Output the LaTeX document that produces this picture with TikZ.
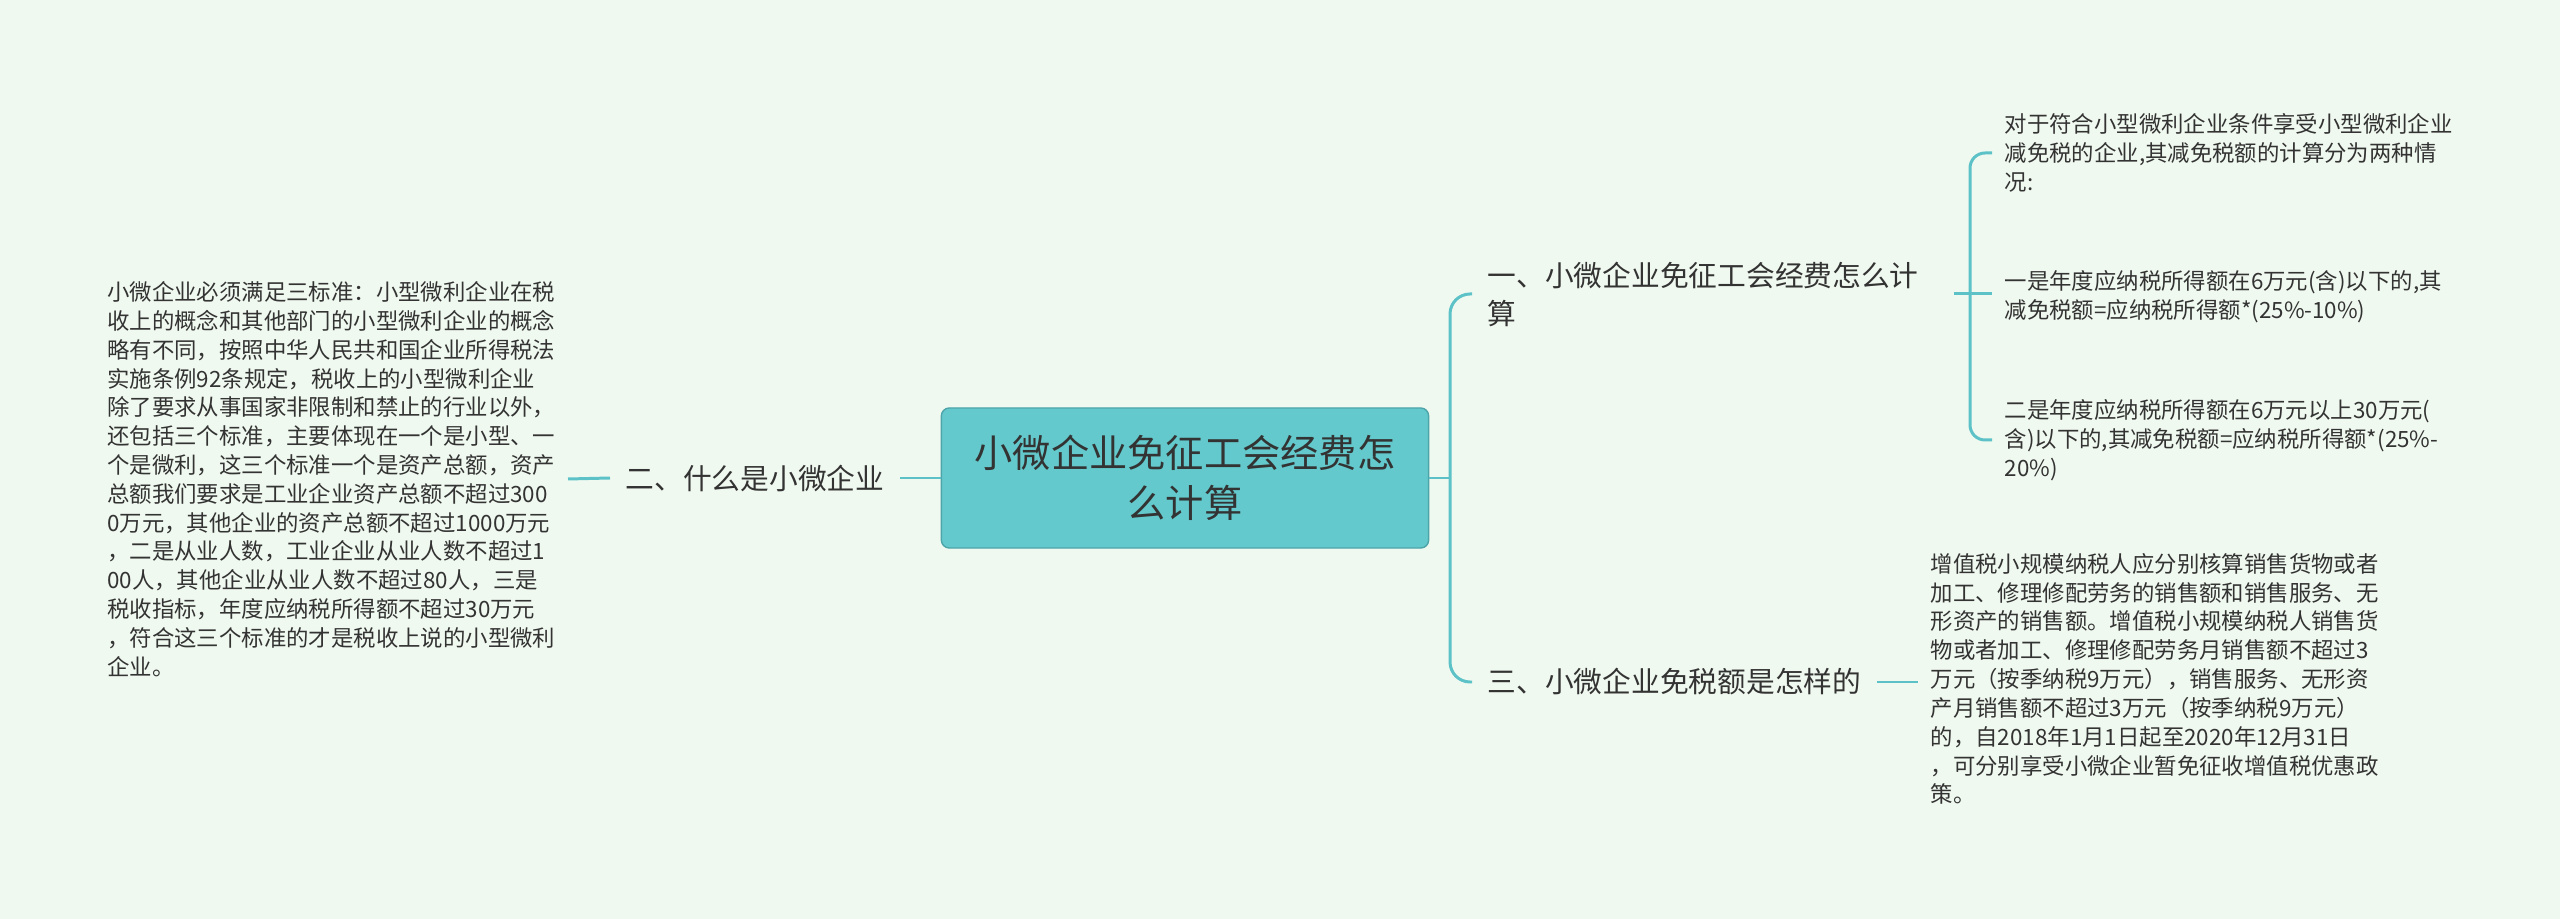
\documentclass[tikz,border=0pt]{standalone}
\usepackage{fontspec}
\setmainfont{Noto Sans CJK SC}
\usepackage{xcolor}
\usepackage{tikz}
\usetikzlibrary{positioning,calc}
\definecolor{MapBg}{HTML}{F0F9F0}
\definecolor{MapTeal}{HTML}{64C9CC}
\definecolor{MapLine}{HTML}{5CC2C7}
\definecolor{MapText}{HTML}{333333}

\begin{document}
\begin{tikzpicture}[x=0.01cm, y=-0.01cm,
        root/.style={rectangle, draw=MapLine!85!black, fill=MapTeal, line width=0.4pt,
                     rounded corners=0.08cm, minimum width=4.87cm, minimum height=1.40cm,
                     align=center, text=MapText, font=\fontsize{10.87pt}{14.2pt}\selectfont},
        branch/.style={inner xsep=0.15cm, inner ysep=0pt, align=left, text=MapText,
                       font=\fontsize{8.17pt}{10.8pt}\selectfont},
        leaf/.style={inner xsep=0.12cm, inner ysep=0pt, align=left, text=MapText,
                     font=\fontsize{6.37pt}{8.19pt}\selectfont},
        link/.style={draw=MapLine, line width=0.85pt},
      ]
      \fill[MapBg] (0,0) rectangle (2560,919);
      \useasboundingbox (0,0) rectangle (2560,919);
      % centre
      \node[root] (root) at (1185,478) {小微企业免征工会经费怎\\么计算};
      % left side
      \node[branch, anchor=east] (b2) at (900,478) {二、什么是小微企业};
      \node[leaf, anchor=east] (ll) at (568,479)
        {小微企业必须满足三标准：小型微利企业在税\\
         收上的概念和其他部门的小型微利企业的概念\\
         略有不同，按照中华人民共和国企业所得税法\\
         实施条例92条规定，税收上的小型微利企业\\
         除了要求从事国家非限制和禁止的行业以外，\\
         还包括三个标准，主要体现在一个是小型、一\\
         个是微利，这三个标准一个是资产总额，资产\\
         总额我们要求是工业企业资产总额不超过300\\
         0万元，其他企业的资产总额不超过1000万元\\
         ，二是从业人数，工业企业从业人数不超过1\\
         00人，其他企业从业人数不超过80人，三是\\
         税收指标，年度应纳税所得额不超过30万元\\
         ，符合这三个标准的才是税收上说的小型微利\\
         企业。};
      % right side
      \node[branch, anchor=west, text width=4.5cm] (b1) at (1472,294)
        {一、小微企业免征工会经费怎么计\\算};
      \node[branch, anchor=west] (b3) at (1472,682) {三、小微企业免税额是怎样的};
      \node[leaf, anchor=west] (l1a) at (1992,153)
        {对于符合小型微利企业条件享受小型微利企业\\
         减免税的企业,其减免税额的计算分为两种情\\
         况:};
      \node[leaf, anchor=west] (l1b) at (1992,297)
        {一是年度应纳税所得额在6万元(含)以下的,其\\
         减免税额=应纳税所得额*(25\%-10\%)};
      \node[leaf, anchor=west] (l1c) at (1992,440)
        {二是年度应纳税所得额在6万元以上30万元(\\
         含)以下的,其减免税额=应纳税所得额*(25\%-\\
         20\%)};
      \node[leaf, anchor=west] (l3) at (1918,679)
        {增值税小规模纳税人应分别核算销售货物或者\\
         加工、修理修配劳务的销售额和销售服务、无\\
         形资产的销售额。增值税小规模纳税人销售货\\
         物或者加工、修理修配劳务月销售额不超过3\\
         万元（按季纳税9万元），销售服务、无形资\\
         产月销售额不超过3万元（按季纳税9万元）\\
         的，自2018年1月1日起至2020年12月31日\\
         ，可分别享受小微企业暂免征收增值税优惠政\\
         策。};
      \coordinate (j0) at (1450,478);
      \coordinate (j1) at (1970,294);
      % connectors
      \draw[link] (root.west) -- (b2.east);
      \draw[link] (b2.west) -- (ll.east);
      \draw[link] (root.east) -- (j0);
      \draw[link, rounded corners=0.2cm] (b1.west) -| (j0) |- (b3.west);
      \draw[link] (b1.east) -- (l1b.west |- b1.east);
      \draw[link, rounded corners=0.15cm] (l1a.west) -| (j1) |- (l1c.west);
      \draw[link] (b3.east) -- (l3.west |- b3.east);
    \end{tikzpicture}
\end{document}
